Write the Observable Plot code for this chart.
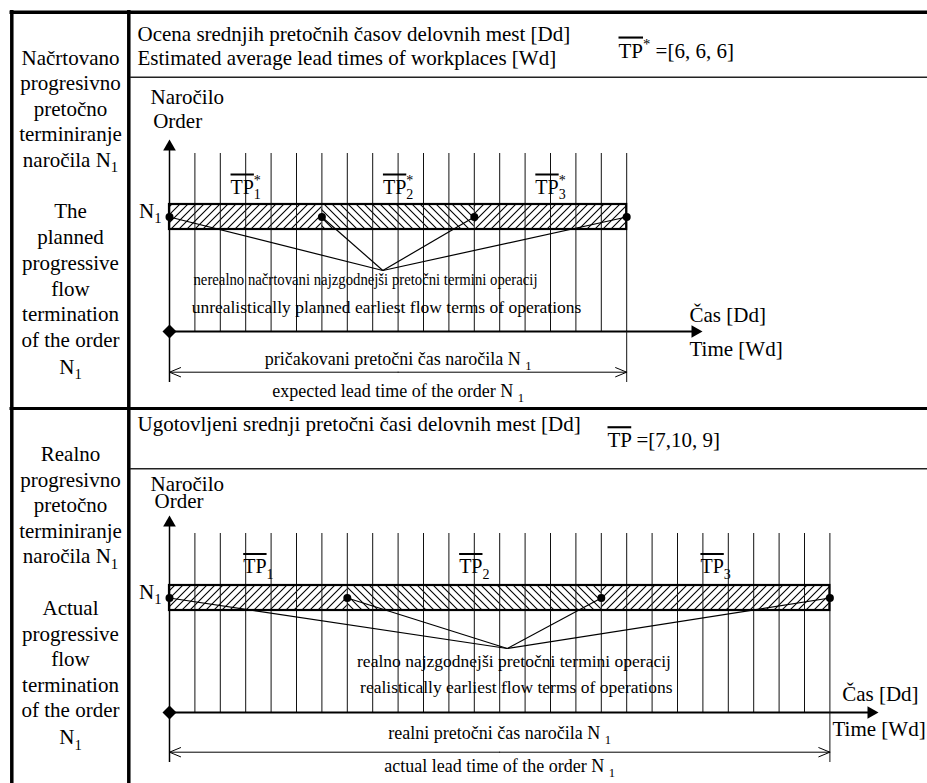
<!DOCTYPE html>
<html><head><meta charset="utf-8">
<script src="https://cdn.jsdelivr.net/npm/d3@7"></script>
<script src="https://cdn.jsdelivr.net/npm/@observablehq/plot@0.6"></script>
<style>body{margin:0;background:#fff}</style>
</head><body>
<script>
// ---------------- data ----------------
const plannedTP = [6, 6, 6];     // estimated average lead times TP* [Wd]
const actualTP = [7, 10, 9];     // determined average lead times TP [Wd]
const planMeet = 8.4;            // day where the leader lines meet (planned)
const actualMeet = 13.3;         // day where the leader lines meet (actual)

const leftTop = ["Načrtovano", "progresivno", "pretočno", "terminiranje", "naročila N{sub:1}"];
const leftTopEn = ["The", "planned", "progressive", "flow", "termination", "of the order", "N{sub:1}"];
const leftBot = ["Realno", "progresivno", "pretočno", "terminiranje", "naročila N{sub:1}"];
const leftBotEn = ["Actual", "progressive", "flow", "termination", "of the order", "N{sub:1}"];
const headerTop = ["Ocena srednjih pretočnih časov delovnih mest [Dd]", "Estimated average lead times of workplaces [Wd]"];
const headerBot = ["Ugotovljeni srednji pretočni časi delovnih mest [Dd]"];
const notesTop = ["nerealno načrtovani najzgodnejši pretočni termini operacij", "unrealistically planned earliest flow terms of operations"];
const notesBot = ["realno najzgodnejši pretočni termini operacij", "realistically earliest flow terms of operations"];
const spanTop = ["pričakovani pretočni čas naročila N {sub:1}", "expected lead time of the order N {sub:1}"];
const spanBot = ["realni pretočni čas naročila N {sub:1}", "actual lead time of the order N {sub:1}"];
const axisNames = ["Naročilo", "Order"];
const timeNames = ["Čas [Dd]", "Time [Wd]"];

// ---------------- layout ----------------
const W = 927, H = 783;
const X0 = 169, K = 25.4;              // page px of day 0, px per working day
const toDay = p => (p - X0) / K;

const panels = [
  {tp: plannedTP, star: true, meet: planMeet, notes: notesTop, span: spanTop,
   formula: `{o:TP}{sup:*} =[${plannedTP.join(", ")}]`, formulaX: 618, formulaY: 57,
   header: headerTop, headerY: [40, 64.5],
   left: leftTop, leftY: [64, 89.5, 115, 140.5, 166], leftEn: leftTopEn, leftEnY: [217, 243, 269, 295, 320.7, 346.7, 373],
   tipY: 139, gridTop: 153, tpY: 193, barTop: 204, barBot: 229, meetY: 270,
   noteY: [284, 312], noteX: [365, 386], noteFit: [344, 0], axisY: 331, axisTip: 702,
   spanY: 371.7, spanBot: 382, spanTextY: [364, 396.5],
   nameX: [150, 152.7], nameY: [103.5, 127], timeX: [689, 689], timeY: [321.7, 355], n1Y: 217},
  {tp: actualTP, star: false, meet: actualMeet, notes: notesBot, span: spanBot,
   formula: `{o:TP} =[${actualTP[0]},${actualTP[1]}, ${actualTP[2]}]`, formulaX: 607, formulaY: 446.7,
   header: headerBot, headerY: [430],
   left: leftBot, leftY: [460, 486, 511.7, 537.3, 562.7], leftEn: leftBotEn, leftEnY: [614, 640, 665, 691.7, 716.7, 743.3],
   tipY: 515, gridTop: 533, tpY: 572.5, barTop: 585, barBot: 610, meetY: 648,
   noteY: [666, 692], noteX: [513.5, 515.8], noteFit: [0, 0], axisY: 712, axisTip: 878,
   spanY: 751.7, spanBot: 762, spanTextY: [738, 771.5],
   nameX: [150, 154], nameY: [490, 507.3], timeX: [841.7, 832], timeY: [700.7, 735], n1Y: 598}
];

// ---------------- marks ----------------
const texts = [];   // {text, x(px), y(baseline px), size, anchor, fit}
function panelMarks(p) {
  const total = d3.sum(p.tp);
  const cum = Array.from(d3.cumsum(p.tp));
  const segs = p.tp.map((v, i) => ({i, x1: cum[i] - v, x2: cum[i], mid: cum[i] - v / 2}));
  const nodes = [0, ...cum];
  const days = d3.range(0, total + 1);
  const midY = (p.barTop + p.barBot) / 2;

  p.header.forEach((t, i) => texts.push({text: t, x: 137, y: p.headerY[i], size: 21, anchor: "start"}));
  texts.push({text: p.formula, x: p.formulaX, y: p.formulaY, size: 21, anchor: "start"});
  p.left.forEach((t, i) => texts.push({text: t, x: 70, y: p.leftY[i], size: 21, anchor: "middle"}));
  p.leftEn.forEach((t, i) => texts.push({text: t, x: 70, y: p.leftEnY[i], size: 21, anchor: "middle"}));
  axisNames.forEach((t, i) => texts.push({text: t, x: p.nameX[i], y: p.nameY[i], size: 21, anchor: "start"}));
  timeNames.forEach((t, i) => texts.push({text: t, x: p.timeX[i], y: p.timeY[i], size: 21, anchor: "start"}));
  texts.push({text: "N{sub:1}", x: 161, y: p.n1Y, size: 21, anchor: "end"});
  p.notes.forEach((t, i) => texts.push({text: t, x: p.noteX[i], y: p.noteY[i], size: 17.5, anchor: "middle", fit: p.noteFit[i]}));
  p.span.forEach((t, i) => texts.push({text: t, x: X0 + K * total / 2, y: p.spanTextY[i], size: 18, anchor: "middle"}));

  return [
    Plot.rect(segs.filter(s => s.i % 2 === 0), {x1: "x1", x2: "x2", y1: p.barTop, y2: p.barBot, fill: "url(#hatchF)"}),
    Plot.rect(segs.filter(s => s.i % 2 === 1), {x1: "x1", x2: "x2", y1: p.barTop, y2: p.barBot, fill: "url(#hatchB)"}),
    Plot.ruleX(days, {x: d => d, y1: p.gridTop, y2: p.axisY, stroke: "#111", strokeWidth: 1}),
    Plot.rect([total], {x1: 0, x2: d => d, y1: p.barTop, y2: p.barBot, fill: "none", stroke: "black", strokeWidth: 2.2}),
    Plot.link(nodes, {x1: d => d, y1: midY, x2: p.meet, y2: p.meetY, stroke: "black", strokeWidth: 1.2}),
    Plot.dot(nodes, {x: d => d, y: midY, r: 4, fill: "black"}),
    // vertical (order) axis
    Plot.ruleX([0], {x: d => d, y1: p.tipY + 8, y2: p.spanBot, stroke: "black", strokeWidth: 1.5}),
    Plot.dot([0], {x: d => d, y: p.tipY + 7.33, symbol: "triangle", r: 4.71, fill: "black"}),
    // time axis
    Plot.ruleY([p.axisY], {y: d => d, x1: 0, x2: toDay(p.axisTip - 6), stroke: "black", strokeWidth: 2}),
    Plot.dot([toDay(p.axisTip - 7.33)], {x: d => d, y: p.axisY, symbol: "triangle", r: 4.71, rotate: 90, fill: "black"}),
    Plot.dot([0], {x: d => d, y: p.axisY, symbol: "diamond2", r: 6.3, fill: "black"}),
    // lead time span
    Plot.ruleX([total], {x: d => d, y1: p.axisY, y2: p.spanBot, stroke: "#111", strokeWidth: 1}),
    Plot.arrow([0, total], {x1: total / 2, x2: d => d, y1: p.spanY, y2: p.spanY, stroke: "black", strokeWidth: 1, headLength: 18, headAngle: 45}),
    // TP labels
    Plot.text(segs, {x: "mid", y: p.tpY, text: d => p.star ? `{o:TP}{ss:*|${d.i + 1}}` : `{o:TP}{sub:${d.i + 1}}`,
      fontSize: 20, lineAnchor: "bottom", textAnchor: "middle"})
  ];
}

const marks = panels.flatMap(panelMarks);

const frameMarks = [
  Plot.ruleY([11.7], {y: d => d, x1: toDay(9.5), x2: toDay(W), stroke: "black", strokeWidth: 3.5}),
  Plot.ruleX([toDay(11.3)], {x: d => d, y1: 10, y2: H, stroke: "black", strokeWidth: 3.5}),
  Plot.ruleX([toDay(128.3)], {x: d => d, y1: 10, y2: H, stroke: "black", strokeWidth: 3.5}),
  Plot.ruleY([76.7, 468.3], {y: d => d, x1: toDay(130), x2: toDay(W), stroke: "#222", strokeWidth: 1.5}),
  Plot.ruleY([408], {y: d => d, x1: toDay(9.5), x2: toDay(W), stroke: "black", strokeWidth: 3})
];

const textMarks = ["start", "middle", "end"].map(a =>
  Plot.text(texts.filter(t => t.anchor === a), {
    x: t => toDay(t.x), y: "y", text: "text", fontSize: "size", textAnchor: a, lineAnchor: "bottom", fill: "black"
  }));

const svg = Plot.plot({
  width: W, height: H, margin: 0,
  x: {domain: [toDay(0), toDay(W)], range: [0, W], axis: null},
  y: {domain: [0, H], range: [0, H], axis: null},
  style: {fontFamily: "'Liberation Serif', 'Times New Roman', serif", background: "white", color: "black", overflow: "visible"},
  marks: [...frameMarks, ...marks, ...textMarks]
});
document.body.appendChild(svg);

// hatch patterns
const defs = d3.select(svg).insert("defs", ":first-child");
[["hatchF", "M-2,2L2,-2M0,8L8,0M6,10L10,6"], ["hatchB", "M-2,6L2,10M0,0L8,8M6,-2L10,2"]].forEach(([id, path]) => {
  defs.append("pattern").attr("id", id).attr("patternUnits", "userSpaceOnUse").attr("width", 8).attr("height", 8)
    .append("path").attr("d", path).attr("stroke", "black").attr("stroke-width", 1.1).attr("fill", "none");
});

// rich text: overline / sub / sup markup -> tspans
const NS = "http://www.w3.org/2000/svg";
svg.querySelectorAll("text").forEach(el => {
  const s = el.textContent;
  const fitItem = texts.find(t => t.text === s && t.fit);
  if (fitItem) { el.setAttribute("textLength", fitItem.fit); el.setAttribute("lengthAdjust", "spacingAndGlyphs"); }
  if (!s.includes("{")) return;
  const fs = parseFloat(getComputedStyle(el).fontSize);
  while (el.firstChild) el.removeChild(el.firstChild);
  const re = /\{(o|sub|sup|ss):([^}]*)\}/g;
  let last = 0, m, cur = 0;
  const span = (txt, off, size) => {
    const t = document.createElementNS(NS, "tspan");
    t.textContent = txt;
    const dy = off - cur; if (dy) t.setAttribute("dy", dy); cur = off;
    if (size) t.setAttribute("font-size", size);
    el.appendChild(t);
    return t;
  };
  while ((m = re.exec(s))) {
    if (m.index > last) span(s.slice(last, m.index), 0);
    const kind = m[1], val = m[2];
    if (kind === "o") { const t = span(val, 0); t.style.textDecoration = "overline"; }
    else if (kind === "sub") span(val, 0.28 * fs, 0.7 * fs);
    else if (kind === "sup") span(val, -0.42 * fs, 0.7 * fs);
    else {
      const [a, b] = val.split("|");
      const t1 = span(a, -0.42 * fs, 0.7 * fs);
      const w = t1.getComputedTextLength();
      const t2 = span(b, 0.28 * fs, 0.7 * fs);
      t2.setAttribute("dx", -w);
    }
    last = re.lastIndex;
  }
  if (last < s.length) span(s.slice(last), 0);
});
</script>
</body></html>
